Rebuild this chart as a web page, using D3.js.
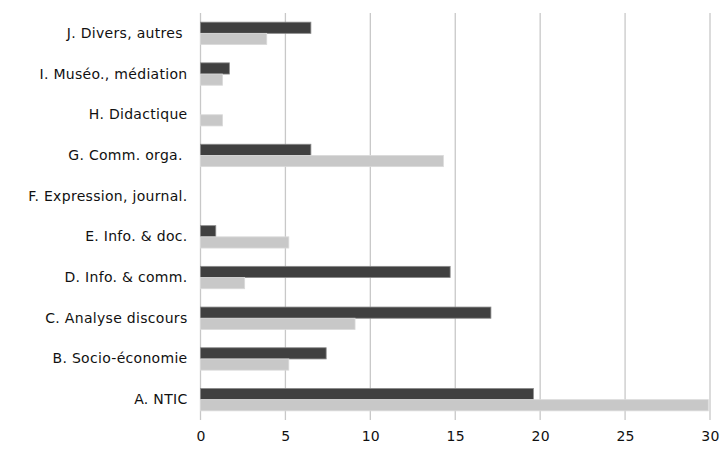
<!DOCTYPE html>
<html>
<head>
<meta charset="utf-8">
<script src="https://cdn.jsdelivr.net/npm/d3@7"></script>
<style>
  body { margin: 0; background: #fff; }
  text { font-family: "DejaVu Sans", Verdana, sans-serif; fill: #111; }
</style>
</head>
<body>
<svg id="chart" width="720" height="451"></svg>
<script>
// categories, bottom to top
const categories = [
    "A. NTIC",
    "B. Socio-économie",
    "C. Analyse discours",
    "D. Info. & comm.",
    "E. Info. & doc.",
    "F. Expression, journal.",
    "G. Comm. orga. ",
    "H. Didactique",
    "I. Muséo., médiation",
    "J. Divers, autres "
];
const darkValues = [19.6, 7.4, 17.1, 14.7, 0.9, 0, 6.5, 0, 1.7, 6.5];
const lightValues = [29.9, 5.2, 9.1, 2.6, 5.2, 0, 14.3, 1.3, 1.3, 3.9];
const xTicks = [0, 5, 10, 15, 20, 25, 30];

let svg = d3.select("#chart");
let plotLeft = 200.5, plotRight = 710, plotTop = 13, plotBottom = 420;

// X scale
let x = d3.scaleLinear()
    .domain([0, 30])
    .range([plotLeft, plotRight]);

// Y scale (A at bottom)
let y = d3.scaleBand()
    .domain(categories.slice().reverse())
    .range([plotTop, plotBottom])
    .paddingInner(0)
    .paddingOuter(0);

let barH = 11.2;

// Gridlines
svg.append("g")
    .selectAll("line")
    .data(xTicks)
    .enter().append("line")
    .attr("x1", d => x(d))
    .attr("x2", d => x(d))
    .attr("y1", plotTop)
    .attr("y2", plotBottom)
    .attr("stroke", "#c8c8c8")
    .attr("stroke-width", 1.3);

let rows = categories.map((c, i) => ({ cat: c, dark: darkValues[i], light: lightValues[i] }));

// Dark bars
svg.append("g")
    .selectAll("rect")
    .data(rows.filter(d => d.dark > 0))
    .enter().append("rect")
    .attr("x", x(0))
    .attr("y", d => y(d.cat) + y.bandwidth() / 2 - barH)
    .attr("width", d => x(d.dark) - x(0))
    .attr("height", barH)
    .attr("fill", "#404040")
    .attr("stroke", "#8a8a8a")
    .attr("stroke-width", 0.8);

// Light bars
svg.append("g")
    .selectAll("rect")
    .data(rows.filter(d => d.light > 0))
    .enter().append("rect")
    .attr("x", x(0))
    .attr("y", d => y(d.cat) + y.bandwidth() / 2)
    .attr("width", d => x(d.light) - x(0))
    .attr("height", barH)
    .attr("fill", "#c8c8c8")
    .attr("stroke", "#dadada")
    .attr("stroke-width", 0.8);

// Y-axis labels
let yAxis = d3.axisLeft(y).tickSize(0).tickPadding(13);
let yg = svg.append("g")
    .attr("transform", "translate(" + plotLeft + ",0)")
    .call(yAxis);
yg.select(".domain").remove();
yg.selectAll("text")
    .attr("xml:space", "preserve")
    .style("white-space", "pre")
    .style("letter-spacing", "0.3px")
    .attr("font-size", 14)
    .attr("font-family", "'DejaVu Sans', Verdana, sans-serif")
    .attr("fill", "#111");

// X-axis labels
let xAxis = d3.axisBottom(x).tickValues(xTicks).tickSize(0).tickPadding(11);
let xg = svg.append("g")
    .attr("transform", "translate(0," + plotBottom + ")")
    .call(xAxis);
xg.select(".domain").remove();
xg.selectAll("text")
    .attr("font-size", 14)
    .style("letter-spacing", "0.3px")
    .attr("font-family", "'DejaVu Sans', Verdana, sans-serif")
    .attr("fill", "#111");
</script>
</body>
</html>
